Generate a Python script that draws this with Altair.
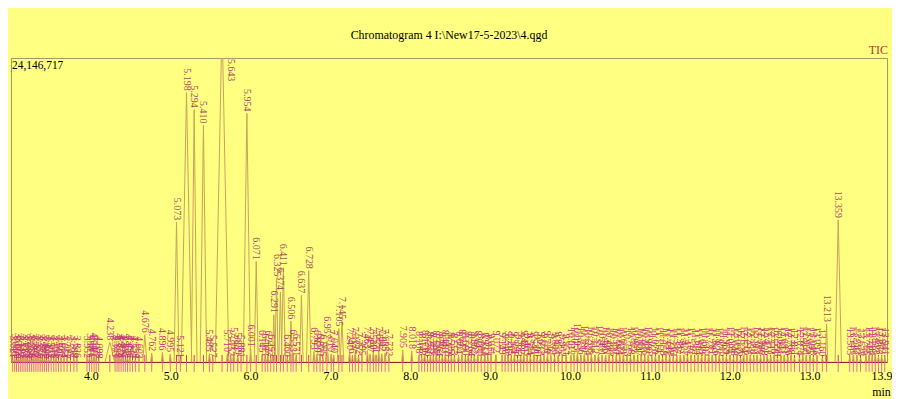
import altair as alt
import pandas as pd

SERIF = "Liberation Serif"
YMAX = 24146717
TITLE = "Chromatogram 4 I:\\New17-5-2023\\4.qgd"

# labelled larger peaks: retention time (min), apex height (counts), half width (min)
major_rt = [4.238, 4.676, 5.073, 5.198, 5.294, 5.410, 5.643, 5.954, 6.071, 6.291, 6.325,
            6.374, 6.411, 6.506, 6.637, 6.728, 6.957, 7.105, 7.145, 13.213, 13.359]
major_h = [1570000, 2170000, 11110000, 21390000, 20040000, 18790000, 27000000, 19750000,
           7970000, 3740000, 6640000, 5550000, 7490000, 3240000, 5310000, 7240000,
           1690000, 2660000, 3240000, 3020000, 11280000]
major_hw = [0.06, 0.025, 0.03, 0.065, 0.035, 0.04, 0.085, 0.045, 0.025, 0.018, 0.02,
            0.02, 0.025, 0.02, 0.022, 0.028, 0.02, 0.02, 0.022, 0.015, 0.04]

# small labelled peaks along the baseline: retention time (min), height (thousands of counts)
minor_rt = [
    3.021, 3.046, 3.069, 3.093, 3.117, 3.140, 3.163, 3.186, 3.209, 3.233, 3.256, 3.279,
    3.302, 3.326, 3.350, 3.373, 3.397, 3.421, 3.446, 3.471, 3.503, 3.536, 3.564, 3.595,
    3.627, 3.664, 3.703, 3.745, 3.788, 3.826,
    3.952, 3.983, 4.011, 4.040, 4.067, 4.098,
    4.303, 4.328, 4.352, 4.379, 4.405, 4.432, 4.459, 4.490, 4.522, 4.558, 4.603,
    4.762, 4.896, 4.995, 5.121, 5.485, 5.527, 5.710, 5.752, 5.789, 5.839, 5.881, 6.001,
    6.145, 6.183, 6.215, 6.252, 6.460, 6.533, 6.571, 6.793, 6.829, 6.870, 6.905, 7.010,
    7.040,
    7.240, 7.276, 7.312, 7.352, 7.395, 7.463, 7.497, 7.538, 7.571, 7.605, 7.642, 7.685,
    7.732, 7.905, 8.018,
    8.108, 8.143, 8.179, 8.216, 8.252, 8.289, 8.326, 8.364, 8.402, 8.440, 8.478, 8.515,
    8.553, 8.604, 8.647, 8.690, 8.727, 8.764, 8.802, 8.845, 8.888, 8.933, 8.971, 9.011,
    9.072,
    9.149, 9.187, 9.226, 9.265, 9.304, 9.343, 9.382, 9.421, 9.463, 9.504, 9.548, 9.590,
    9.632, 9.675, 9.718, 9.761, 9.806, 9.853, 9.902, 9.951,
    10.012, 10.051, 10.093, 10.136, 10.180, 10.224, 10.268, 10.312, 10.357, 10.401,
    10.446, 10.490, 10.535, 10.580, 10.624, 10.668, 10.713, 10.758, 10.802, 10.847,
    10.891, 10.936, 10.980, 11.025, 11.070, 11.114, 11.159, 11.203, 11.248, 11.293,
    11.337, 11.382, 11.427, 11.471, 11.516, 11.561,
    11.604, 11.648, 11.692, 11.737, 11.781, 11.826, 11.870, 11.915, 11.959, 12.004,
    12.048, 12.092, 12.136,
    12.174, 12.216, 12.258, 12.301, 12.343, 12.386, 12.428, 12.471, 12.513, 12.556,
    12.598, 12.641, 12.683, 12.726, 12.768, 12.811,
    12.874, 12.915, 12.958, 13.005, 13.048, 13.093, 13.160,
    13.503, 13.548, 13.593, 13.638,
    13.706, 13.745, 13.784, 13.823, 13.863, 13.902, 13.941,
]
minor_hk = [
    160, 310, 120, 380, 200, 260, 140, 330, 180, 290, 110, 360,
    190, 240, 130, 300, 170, 270, 100, 220, 200, 150, 250, 120,
    210, 160, 270, 130, 200, 150,
    150, 340, 200, 400, 170, 120,
    240, 150, 350, 200, 290, 140, 330, 180, 130, 160, 110,
    700, 760, 620, 180, 650, 200, 640, 300, 820, 420, 200, 1050,
    600, 330, 560, 260, 260, 640, 300, 820, 600, 330, 250, 640,
    560,
    800, 520, 860, 450, 330, 900, 620, 840, 560, 880, 650, 700,
    300, 950, 880,
    520, 330, 600, 280, 480, 390, 560, 300, 470, 620, 290, 440,
    350, 500, 660, 380, 520, 300, 460, 560, 320, 420, 260, 380,
    560,
    420, 290, 520, 350, 480, 260, 440, 580, 320, 400, 500, 270,
    460, 350, 540, 300, 420, 480, 260, 330,
    380, 520, 760, 440, 600, 360, 560, 480, 620, 330,
    540, 420, 300, 460, 380, 500, 280, 440, 560, 320,
    470, 390, 520, 300, 450, 560, 340, 480, 400, 300,
    460, 520, 360, 440, 500, 320,
    380, 480, 300, 520, 420, 360, 500, 280, 440, 520,
    340, 460, 300,
    560, 400, 480, 320, 520, 440, 360, 500, 420, 540,
    300, 460, 500, 380, 440, 320,
    360, 560, 420, 500, 380, 460, 300,
    380, 560, 420, 320,
    400, 520, 360, 560, 440, 480, 380,
]
MINOR_HW = 0.012

x_ticks = [4.0, 5.0, 6.0, 7.0, 8.0, 9.0, 10.0, 11.0, 12.0, 13.0, 13.9]
x_domain = [3.0, 13.97]

rows = []
for rt, h, hw in zip(major_rt, major_h, major_hw):
    rows.append({"rt": rt, "h": float(h), "hw": hw})
for rt, hk in zip(minor_rt, minor_hk):
    rows.append({"rt": rt, "h": float(hk) * 1000.0, "hw": MINOR_HW})
peaks = pd.DataFrame(rows).sort_values("rt").reset_index(drop=True)
peaks["id"] = range(len(peaks))
peaks["label"] = peaks["rt"].map(lambda v: f"{v:.3f}")
peaks["kind"] = ["major" if h >= 0.1 * YMAX else "minor" for h in peaks["h"]]

trace = pd.concat([
    pd.DataFrame({"id": peaks["id"], "rt": peaks["rt"] - peaks["hw"], "h": 0.0, "o": 0}),
    pd.DataFrame({"id": peaks["id"], "rt": peaks["rt"], "h": peaks["h"], "o": 1}),
    pd.DataFrame({"id": peaks["id"], "rt": peaks["rt"] + peaks["hw"], "h": 0.0, "o": 2}),
]).reset_index(drop=True)

xs = alt.Scale(domain=x_domain, nice=False, zero=False)
ys = alt.Scale(domain=[0, YMAX], nice=False, zero=True)
xaxis = alt.Axis(values=x_ticks, format=".1f", labelFont=SERIF, labelFontSize=12,
                 labelColor="black", labelPadding=9, ticks=False, tickSize=0, grid=False,
                 domainColor="#9B1B30", domainWidth=1, labelOverlap=False, labelFlush=False,
                 titleFont=SERIF, titleFontSize=12, titleFontWeight="normal",
                 titleColor="black", titleX=876, titleY=34, titleBaseline="alphabetic",
                 titleAlign="center")

def X():
    return alt.X("rt:Q", scale=xs, axis=xaxis, title="min")

trace_layer = alt.Chart(trace).mark_line(color="#C9A25A", strokeWidth=1, clip=True).encode(
    x=X(), y=alt.Y("h:Q", scale=ys, axis=None), detail="id:N", order="o:Q")

marks_below = alt.Chart(peaks).mark_rule(color="#E8609E", strokeWidth=1, opacity=0.9).encode(
    x=X(), y=alt.value(306), y2=alt.value(316))
marks_above = alt.Chart(peaks).mark_rule(color="#D51F73", strokeWidth=1, opacity=0.9).encode(
    x=X(), y=alt.value(299), y2=alt.value(306))

label_layer = alt.Chart(peaks[peaks["h"] <= YMAX]).mark_text(
    angle=90, align="right", baseline="middle", dx=-2, fontSize=10, font=SERIF).encode(
    x=X(), y=alt.Y("h:Q", scale=ys, axis=None), text="label:N",
    color=alt.Color("kind:N", scale=alt.Scale(domain=["major", "minor"],
                                              range=["#A8505A", "#C8387A"]), legend=None))

clipped_layer = alt.Chart(peaks[peaks["h"] > YMAX]).mark_text(
    angle=90, align="left", baseline="middle", dx=1, dy=-9, fontSize=10, font=SERIF,
    color="#A8505A").encode(x=X(), y=alt.value(0), text="label:N")

ymax_df = pd.DataFrame({"txt": [f"{YMAX:,}"]})
ymax_layer = alt.Chart(ymax_df).mark_text(align="left", baseline="top", fontSize=11.5,
                                          font=SERIF, color="black").encode(
    x=alt.value(1), y=alt.value(2), text="txt:N")

tic_df = pd.DataFrame({"txt": ["TIC"]})
tic_layer = alt.Chart(tic_df).mark_text(align="right", baseline="alphabetic", fontSize=12,
                                        font=SERIF, color="#B03535").encode(
    x=alt.value(883), y=alt.value(-4), text="txt:N")

title_df = pd.DataFrame({"txt": [TITLE]})
title_layer = alt.Chart(title_df).mark_text(align="center", baseline="alphabetic",
                                            fontSize=12, font=SERIF, color="black").encode(
    x=alt.value(441), y=alt.value(-19), text="txt:N")

chart = alt.layer(
    marks_below, marks_above, trace_layer, label_layer, clipped_layer, ymax_layer,
    tic_layer, title_layer
).properties(
    width=882, height=306,
    background="#FFFF82",
    padding={"left": 3, "top": 49, "right": 5, "bottom": 36},
    autosize=alt.AutoSizeParams(type="none"),
).configure_view(stroke="#9A9A6A", strokeWidth=1, fill="#FFFF82")

chart.save("out.html", embed_options={"renderer": "svg", "actions": False})
